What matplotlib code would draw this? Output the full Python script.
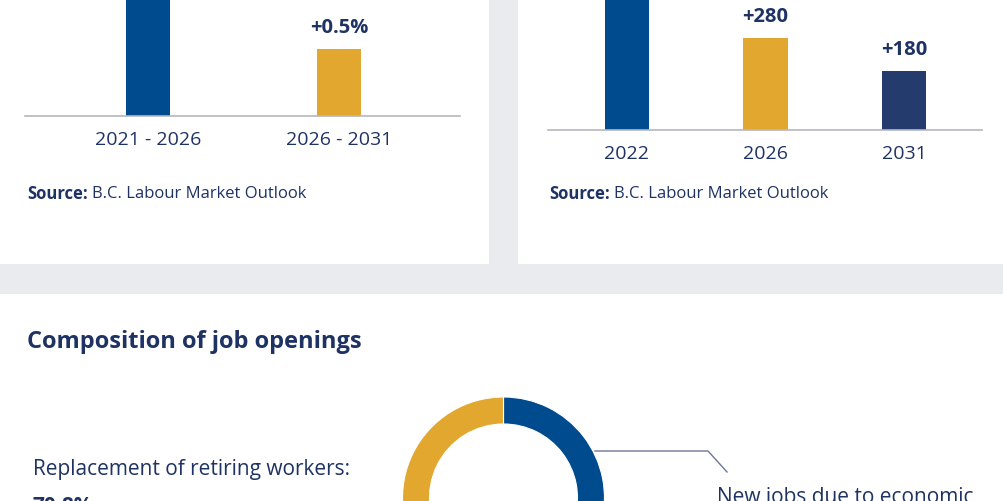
import matplotlib.pyplot as plt
from matplotlib.patches import Rectangle
from matplotlib.lines import Line2D

# employment growth (left panel); first bar runs off the top of the crop
growth_periods = ["2021 - 2026", "2026 - 2031"]
growth_values = [1.1, 0.5]
growth_labels = [None, "+0.5%"]

# job openings (right panel)
opening_years = ["2022", "2026", "2031"]
opening_values = [480, 280, 180]
opening_labels = [None, "+280", "+180"]

# composition of job openings
shares = [29.2, 70.8]
share_names = ["New jobs due to economic", "Replacement of retiring workers:"]

BLUE = "#004b8d"
GOLD = "#e2a72e"
NAVY = "#243b6e"
TEXT = "#1e3264"
BG = "#e9ebef"

W, H = 1004, 502
fig = plt.figure(figsize=(W / 100, H / 100), dpi=100, facecolor=BG)


def box(x0, y0, x1, y1):
    # pixel box (top-left origin) -> figure fraction rect
    return [x0 / W, 1 - y1 / H, (x1 - x0) / W, (y1 - y0) / H]


def fx(x):
    return x / W


def fy(y):
    return 1 - y / H


# white panels
for x0, y0, x1, y1 in [(0, 0, 489, 265), (518, 0, W, 265), (0, 295, W, H)]:
    b = box(x0, y0, x1, y1)
    fig.patches.append(Rectangle((b[0], b[1]), b[2], b[3], transform=fig.transFigure,
                                 facecolor="white", edgecolor="none", zorder=-5))

plt.rcParams['font.family'] = ['Open Sans', 'DejaVu Sans']


def bar_panel(rect, cats, vals, labels, colors, ymax, xlim, width):
    ax = fig.add_axes(rect)
    ax.set_facecolor("none")
    x = list(range(len(cats)))
    ax.bar(x, vals, width=width, color=colors, zorder=2)
    for xi, v, lab in zip(x, vals, labels):
        if lab:
            ax.annotate(lab, (xi, v), xytext=(0, 15.5), textcoords="offset points",
                        ha="center", va="center", fontsize=14.5, fontweight="bold", color=TEXT)
    ax.set_ylim(0, ymax)
    ax.set_xlim(*xlim)
    ax.set_xticks(x, cats)
    ax.tick_params(axis="x", length=0, pad=10, labelsize=14, labelcolor=TEXT)
    ax.set_yticks([])
    for s in ["top", "left", "right"]:
        ax.spines[s].set_visible(False)
    ax.spines["bottom"].set_color("#b5b8bf")
    ax.spines["bottom"].set_linewidth(1.2)
    return ax


bar_panel(box(25, 0, 460, 117), growth_periods, growth_values, growth_labels,
          [BLUE, GOLD], 0.5 * 117 / 67, (-0.644, 1.634), 0.23)
bar_panel(box(548, 0, 982, 131), opening_years, opening_values, opening_labels,
          [BLUE, GOLD, NAVY], 280 * 131 / 92, (-0.57, 2.563), 0.318)

for x in (27, 549):
    t = fig.text(fx(x), fy(194), "Source:", fontsize=12, fontweight="bold",
                 color=TEXT, va="center", ha="left")
    fig.canvas.draw()
    bb = t.get_window_extent()
    fig.text(fx(bb.x1 + 4), fy(194), "B.C. Labour Market Outlook", fontsize=12,
             color=TEXT, va="center", ha="left")

cond = dict(family=['Open Sans', 'DejaVu Sans'], fontstretch="semi-condensed", color=TEXT,
            ha="left", va="baseline")
fig.text(fx(27), fy(348), "Composition of job openings", fontsize=17,
         fontweight="bold", **cond)

# donut
r = 101
cx, cy = 503.5, 499
pax = fig.add_axes(box(cx - r, cy - r, cx + r, cy + r))
pax.pie(shares, colors=[BLUE, GOLD], startangle=90, counterclock=False, radius=1,
        wedgeprops=dict(width=27 / r, edgecolor="white", linewidth=0.8))
pax.set_xlim(-1, 1)
pax.set_ylim(-1, 1)
pax.set_axis_off()

fig.add_artist(Line2D([fx(595), fx(708), fx(727)], [fy(452), fy(452), fy(473)],
                      transform=fig.transFigure, color="#6b7796", linewidth=1))

fig.text(fx(33), fy(475), share_names[1], fontsize=15, **cond)
fig.text(fx(33), fy(512), f"{shares[1]}%", fontsize=15, fontweight="bold", **cond)
fig.text(fx(717), fy(503), share_names[0], fontsize=15, **cond)

fig.savefig("out.png", dpi=100, facecolor=BG)
